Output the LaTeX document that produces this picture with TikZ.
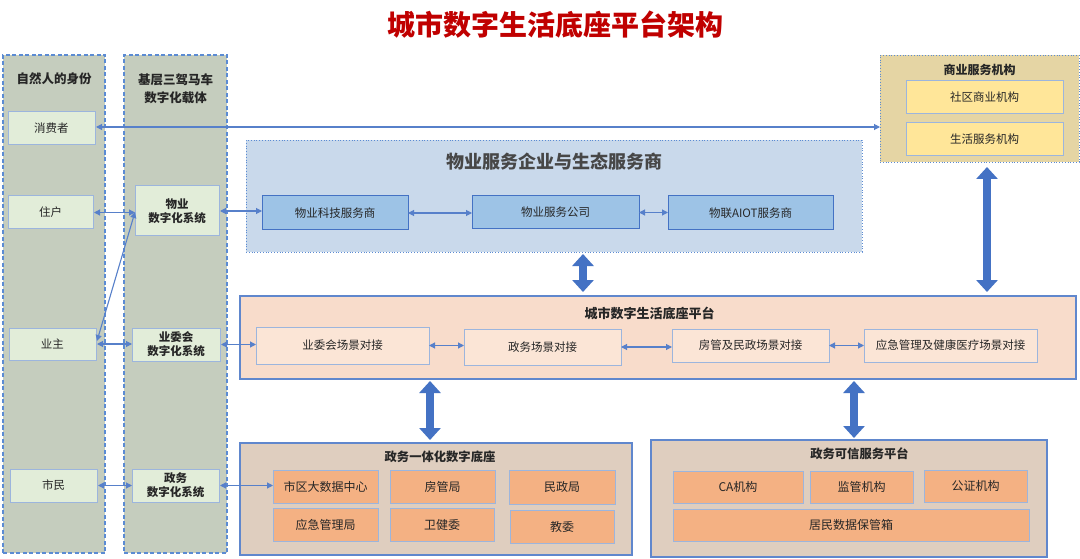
\documentclass[tikz,border=0pt]{standalone}
\usepackage{fontspec}
\setmainfont{Noto Sans CJK SC}
\usetikzlibrary{arrows.meta,calc}
\definecolor{titlered}{HTML}{C00000}
\definecolor{colfill}{HTML}{C5CDBE}
\definecolor{coldash}{HTML}{5B8BD3}
\definecolor{gfill}{HTML}{E2EDD9}
\definecolor{gborder}{HTML}{9CB5DD}
\definecolor{bigblue}{HTML}{C9D9EB}
\definecolor{innerblue}{HTML}{9DC3E6}
\definecolor{darkblue}{HTML}{4472C4}
\definecolor{commfill}{HTML}{E5D5A4}
\definecolor{yellowfill}{HTML}{FFE699}
\definecolor{platfill}{HTML}{F8DCCB}
\definecolor{pinner}{HTML}{FBE5D6}
\definecolor{govfill}{HTML}{DFCEBF}
\definecolor{orange}{HTML}{F4B183}
\definecolor{txt}{HTML}{262626}
\tikzset{
  every node/.style={inner sep=0pt, outer sep=0pt, align=center, text=txt},
  colbox/.style={draw=coldash, fill=colfill, line width=1.4pt, dash pattern=on 4pt off 2.5pt},
  gbox/.style={draw=gborder, fill=gfill, line width=1pt, font=\fontsize{11.5}{14}\selectfont},
  gboxb/.style={gbox, font=\fontsize{11.5}{14}\selectfont\bfseries},
  hdr/.style={font=\fontsize{12.5}{16}\selectfont\bfseries},
  bigbluebox/.style={draw=coldash, fill=bigblue, line width=0.8pt, dotted},
  bluebox/.style={draw=darkblue, fill=innerblue, line width=1pt, font=\fontsize{11.5}{14}\selectfont},
  commbox/.style={draw=coldash, fill=commfill, line width=0.8pt, dotted},
  ybox/.style={draw=gborder, fill=yellowfill, line width=1pt, font=\fontsize{11.5}{14}\selectfont},
  platbox/.style={draw=darkblue!85, fill=platfill, line width=1.2pt},
  pbox/.style={draw=gborder, fill=pinner, line width=1pt, font=\fontsize{11.5}{14}\selectfont},
  govbox/.style={draw=darkblue!85, fill=govfill, line width=1.2pt},
  obox/.style={draw=gborder, fill=orange, line width=1pt, font=\fontsize{12}{14}\selectfont},
  thin/.style={draw=darkblue!90, line width=1.1pt, {Triangle[length=6pt,width=6pt]}-{Triangle[length=6pt,width=6pt]}},
  thick/.style={draw=darkblue, line width=8pt, {Triangle[length=12pt,width=21pt]}-{Triangle[length=12pt,width=21pt]}},
}
\begin{document}
\begin{tikzpicture}[x=1pt,y=-1pt]
\useasboundingbox (0,0) rectangle (1080,559);
\fill[white] (0,0) rectangle (1080,559);

% title
\node[font=\fontsize{28}{32}\selectfont\bfseries, text=titlered] (title) at (555,25) {城市数字生活底座平台架构};

% columns
\node[colbox, minimum width=102, minimum height=498] (col1) at (54,304) {};
\node[colbox, minimum width=103, minimum height=498] (col2) at (175.5,304) {};
\node[hdr] (t1) at (54,79) {自然人的身份};
\node[hdr, font=\fontsize{12.5}{18}\selectfont\bfseries] (t2) at (175.5,89) {基层三驾马车\\数字化载体};

\node[gbox, minimum width=87, minimum height=33] (xiaofei) at (51.5,128.5) {消费者};
\node[gbox, minimum width=85, minimum height=33] (zhuhu) at (50.5,212.5) {住户};
\node[gbox, minimum width=87, minimum height=32] (yezhu) at (52.5,344) {业主};
\node[gbox, minimum width=87, minimum height=33] (shimin) at (53.5,485.5) {市民};

\node[gboxb, minimum width=84, minimum height=50] (wysys) at (177,211) {物业\\数字化系统};
\node[gboxb, minimum width=88, minimum height=33] (ywsys) at (176,344.5) {业委会\\数字化系统};
\node[gboxb, minimum width=87, minimum height=33] (zwsys) at (175.5,485.5) {政务\\数字化系统};

% property services
\node[bigbluebox, minimum width=616, minimum height=112] (wuye) at (554,196) {};
\node[font=\fontsize{18}{20}\selectfont\bfseries, text=txt!85] (wuyet) at (554,162) {物业服务企业与生态服务商};
\node[bluebox, minimum width=146, minimum height=34] (kj) at (335,213) {物业科技服务商};
\node[bluebox, minimum width=167, minimum height=33] (gs) at (555.5,212.5) {物业服务公司};
\node[bluebox, minimum width=165, minimum height=34] (aiot) at (750.5,213) {物联AIOT服务商};

% commercial
\node[commbox, minimum width=199, minimum height=107] (comm) at (979.5,108.5) {};
\node[font=\fontsize{12}{14}\selectfont\bfseries] (commt) at (979.5,70) {商业服务机构};
\node[ybox, minimum width=157, minimum height=33] (sq) at (984.5,97.5) {社区商业机构};
\node[ybox, minimum width=157, minimum height=33] (sh) at (984.5,139.5) {生活服务机构};

% platform
\node[platbox, minimum width=836, minimum height=83] (plat) at (658,337.5) {};
\node[font=\fontsize{13}{15}\selectfont\bfseries] (platt) at (649.5,313) {城市数字生活底座平台};
\node[pbox, minimum width=173, minimum height=37] (p1) at (342.5,345.5) {业委会场景对接};
\node[pbox, minimum width=157, minimum height=36] (p2) at (542.5,347) {政务场景对接};
\node[pbox, minimum width=157, minimum height=33] (p3) at (750.5,345.5) {房管及民政场景对接};
\node[pbox, minimum width=173, minimum height=33] (p4) at (950.5,345.5) {应急管理及健康医疗场景对接};

% government base
\node[govbox, minimum width=392, minimum height=112] (gov1) at (436,499) {};
\node[font=\fontsize{12.3}{14}\selectfont\bfseries] (gov1t) at (440,457) {政务一体化数字底座};
\node[obox, minimum width=105, minimum height=33] (g1) at (325.5,486.5) {市区大数据中心};
\node[obox, minimum width=105, minimum height=33] (g2) at (442.5,486.5) {房管局};
\node[obox, minimum width=106, minimum height=34] (g3) at (562,487) {民政局};
\node[obox, minimum width=105, minimum height=33] (g4) at (325.5,524.5) {应急管理局};
\node[obox, minimum width=104, minimum height=33] (g5) at (442,524.5) {卫健委};
\node[obox, minimum width=104, minimum height=33] (g6) at (562,526.5) {教委};

% trusted platform
\node[govbox, minimum width=396, minimum height=117] (gov2) at (849,498.5) {};
\node[font=\fontsize{12.3}{14}\selectfont\bfseries] (gov2t) at (859.5,454) {政务可信服务平台};
\node[obox, minimum width=130, minimum height=32] (c1) at (738,487) {CA机构};
\node[obox, minimum width=103, minimum height=32] (c2) at (861.5,487) {监管机构};
\node[obox, minimum width=103, minimum height=32] (c3) at (975.5,486) {公证机构};
\node[obox, minimum width=356, minimum height=32] (c4) at (851,525) {居民数据保管箱};

% thick arrows
\draw[thick] ([yshift=-2pt]wuye.south -| 583,0) -- ([yshift=4pt]plat.north -| 583,0);
\draw[thick] ([yshift=-5pt]comm.south -| 987,0) -- ([yshift=4pt]plat.north -| 987,0);
\draw[thick] ([yshift=-2pt]plat.south -| 430,0) -- ([yshift=3pt]gov1.north -| 430,0);
\draw[thick] ([yshift=-2pt]plat.south -| 854,0) -- ([yshift=2pt]gov2.north -| 854,0);

% thin arrows
\draw[thin] ([xshift=1pt,yshift=1.5pt]xiaofei.east) -- ([yshift=1.5pt]xiaofei.east -| comm.west);
\draw[thin] ([xshift=1pt]zhuhu.east) -- (zhuhu.east -| wysys.west);
\draw[thin] ([xshift=1pt,yshift=3pt]yezhu.east) -- ([yshift=-1pt]wysys.west);
\draw[thin] ([xshift=1pt]yezhu.east) -- (yezhu.east -| ywsys.west);
\draw[thin] ([xshift=1pt]shimin.east) -- (shimin.east -| zwsys.west);
\draw[thin] ([xshift=1pt]wysys.east) -- (wysys.east -| kj.west);
\draw[thin] ([xshift=1pt]ywsys.east) -- (ywsys.east -| p1.west);
\draw[thin] ([xshift=1pt]zwsys.east) -- (zwsys.east -| g1.west);
\draw[thin] (kj.east) -- (kj.east -| gs.west);
\draw[thin] (gs.east) -- (gs.east -| aiot.west);
\draw[thin] (p1.east) -- (p1.east -| p2.west);
\draw[thin] (p2.east) -- (p2.east -| p3.west);
\draw[thin] (p3.east) -- (p3.east -| p4.west);
\end{tikzpicture}
\end{document}
